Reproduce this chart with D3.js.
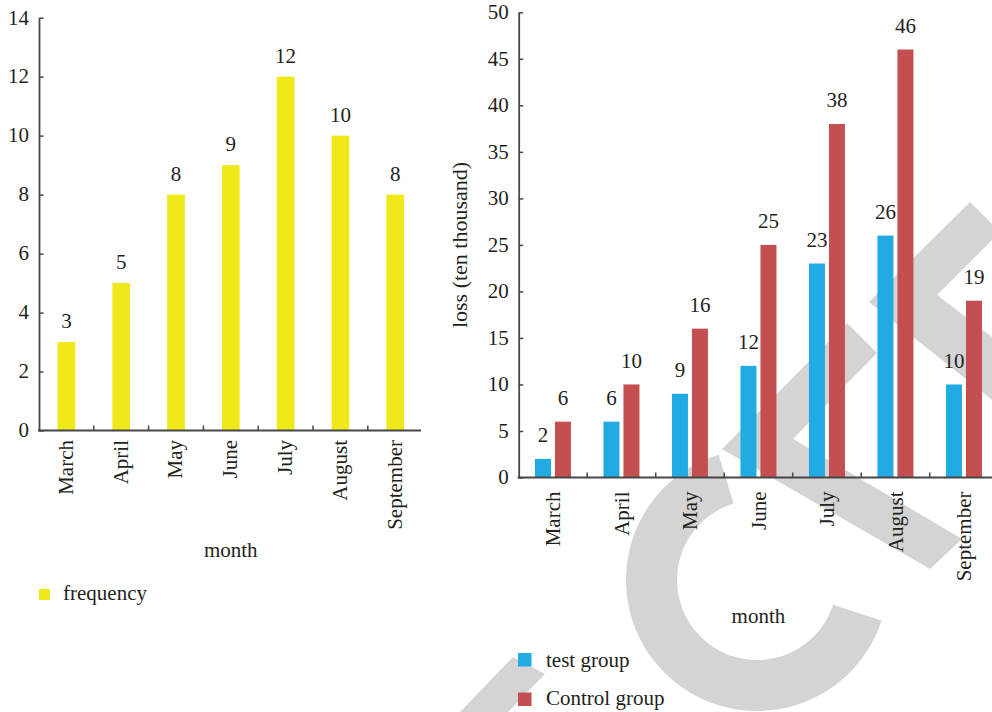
<!DOCTYPE html>
<html>
<head>
<meta charset="utf-8">
<script src="https://cdn.jsdelivr.net/npm/d3@7"></script>
<style>
  html, body { margin: 0; padding: 0; background: #ffffff; }
  svg { display: block; }
</style>
</head>
<body>
<svg id="chart" width="992" height="712" font-family="Liberation Serif"></svg>
<script>
// ---- data ----
const months = ["March", "April", "May", "June", "July", "August", "September"];
const frequency = [3, 5, 8, 9, 12, 10, 8];
const testGroup = [2, 6, 9, 12, 23, 26, 10];
const controlGroup = [6, 10, 16, 25, 38, 46, 19];
const freqTicks = [0, 2, 4, 6, 8, 10, 12, 14];
const lossTicks = [0, 5, 10, 15, 20, 25, 30, 35, 40, 45, 50];
const seriesNames = ["test group", "Control group"];
const leftLegend = ["frequency"];

// ---- styles ----
const C_YELLOW = "#f1e81a";
const C_BLUE = "#22abe2";
const C_RED = "#c44f50";
const C_AXIS = "#464646";
const C_WM = "#d4d4d4";
const C_TEXT = "#231f20";
const FONT = "Liberation Serif";
const FS = 21;

const svg = d3.select("#chart");

// ---- watermark (decorative background) ----
const wm = svg.append("g").attr("fill", C_WM);
wm.append("path")
  .attr("transform", "translate(757,580)")
  .attr("d", d3.arc()({innerRadius: 80, outerRadius: 131,
        startAngle: 108 * Math.PI / 180, endAngle: 343 * Math.PI / 180}));
const wmPolys = [
  [[722,449],[847,323],[877,353],[793,439],[962,539],[930,569]],
  [[869,302],[970,202],[1000,232],[937,295],[1000,343],[1000,406]],
  [[513,657],[460,712],[508,712],[545,674]]
];
wm.selectAll("path.poly").data(wmPolys).join("path")
  .attr("class", "poly")
  .attr("d", d => d3.line()(d) + "Z");

function styleAxis(g) {
  g.attr("font-family", FONT).attr("font-size", FS);
  g.selectAll(".domain").attr("stroke", C_AXIS).attr("stroke-width", 1.8);
  g.selectAll(".tick line").attr("stroke", C_AXIS).attr("stroke-width", 1.5);
}

// =============== LEFT CHART ===============
{
  const x = d3.scaleBand().domain(months).range([39, 422.6]).padding(0);
  const y = d3.scaleLinear().domain([0, 14]).range([430.5, 17.7]);
  const barW = x.bandwidth() * 0.323;

  svg.append("g").selectAll("rect").data(months).join("rect")
    .attr("x", (m) => x(m) + (x.bandwidth() - barW) / 2)
    .attr("width", barW)
    .attr("y", (m, i) => y(frequency[i]))
    .attr("height", (m, i) => y(0) - y(frequency[i]))
    .attr("fill", C_YELLOW);

  svg.append("g").selectAll("text").data(months).join("text")
    .attr("x", (m) => x(m) + x.bandwidth() / 2)
    .attr("y", (m, i) => y(frequency[i]) - 14)
    .attr("text-anchor", "middle")
    .text((m, i) => frequency[i]);

  const ya = svg.append("g").attr("transform", `translate(${x.range()[0]},0)`)
    .call(d3.axisLeft(y).tickValues(freqTicks).tickSize(-4.5).tickSizeOuter(0).tickPadding(10));
  ya.selectAll("text").attr("dy", "0.3em");
  styleAxis(ya);

  const xa = svg.append("g").attr("transform", `translate(0,${y(0)})`)
    .call(d3.axisBottom(x).tickSize(0).tickSizeOuter(0));
  xa.select(".domain").remove();
  xa.selectAll("text")
    .attr("transform", "rotate(-90)")
    .attr("x", -9.5).attr("y", 0).attr("dy", "0.3em")
    .attr("text-anchor", "end");
  styleAxis(xa);
  svg.append("line")
    .attr("x1", x.range()[0] - 1).attr("x2", 421)
    .attr("y1", y(0)).attr("y2", y(0))
    .attr("stroke", C_AXIS).attr("stroke-width", 1.8);
  svg.append("g").selectAll("line").data(months.slice(1)).join("line")
    .attr("x1", m => x(m)).attr("x2", m => x(m))
    .attr("y1", y(0)).attr("y2", y(0) - 5)
    .attr("stroke", C_AXIS).attr("stroke-width", 1.5);

  svg.append("text").attr("x", (x.range()[0] + x.range()[1]) / 2).attr("y", 557)
    .attr("text-anchor", "middle").text("month");

  const lg = svg.append("g");
  lg.selectAll("rect").data(leftLegend).join("rect")
    .attr("x", 39).attr("y", 589).attr("width", 11).attr("height", 11).attr("fill", C_YELLOW);
  lg.selectAll("text").data(leftLegend).join("text")
    .attr("x", 63).attr("y", 600).text(d => d);
}

// =============== RIGHT CHART ===============
{
  const x = d3.scaleBand().domain(months).range([518.7, 998.2]).padding(0);
  const y = d3.scaleLinear().domain([0, 50]).range([477.5, 12.3]);
  const xs = d3.scaleBand().domain(seriesNames).range([0, x.bandwidth()])
    .paddingInner(0.2).paddingOuter(0.8125);
  const colors = [C_BLUE, C_RED];
  const series = [testGroup, controlGroup];

  const rows = [];
  months.forEach((m, i) => seriesNames.forEach((s, j) => rows.push({m, s, v: series[j][i], c: colors[j]})));

  svg.append("g").selectAll("rect").data(rows).join("rect")
    .attr("x", d => x(d.m) + xs(d.s))
    .attr("width", xs.bandwidth())
    .attr("y", d => y(d.v))
    .attr("height", d => y(0) - y(d.v))
    .attr("fill", d => d.c);

  svg.append("g").selectAll("text").data(rows).join("text")
    .attr("x", d => x(d.m) + xs(d.s) + xs.bandwidth() / 2)
    .attr("y", d => y(d.v) - 16.5)
    .attr("text-anchor", "middle")
    .text(d => d.v);

  const ya = svg.append("g").attr("transform", `translate(${x.range()[0]},0)`)
    .call(d3.axisLeft(y).tickValues(lossTicks).tickSize(-4.5).tickSizeOuter(0).tickPadding(10));
  ya.selectAll("text").attr("dy", "0.3em");
  styleAxis(ya);

  const xa = svg.append("g").attr("transform", `translate(0,${y(0)})`)
    .call(d3.axisBottom(x).tickSize(0).tickSizeOuter(0));
  xa.select(".domain").remove();
  xa.selectAll("text")
    .attr("transform", "rotate(-90)")
    .attr("x", -14).attr("y", 0).attr("dy", "0.35em")
    .attr("text-anchor", "end");
  styleAxis(xa);
  svg.append("line")
    .attr("x1", x.range()[0] - 1).attr("x2", x.range()[1])
    .attr("y1", y(0)).attr("y2", y(0))
    .attr("stroke", C_AXIS).attr("stroke-width", 1.8);
  svg.append("g").selectAll("line").data(months.slice(1)).join("line")
    .attr("x1", m => x(m)).attr("x2", m => x(m))
    .attr("y1", y(0)).attr("y2", y(0) - 5)
    .attr("stroke", C_AXIS).attr("stroke-width", 1.5);

  svg.append("text").attr("x", (x.range()[0] + x.range()[1]) / 2).attr("y", 622.5)
    .attr("text-anchor", "middle").text("month");

  svg.append("text")
    .attr("transform", `translate(467,245) rotate(-90)`)
    .attr("text-anchor", "middle").attr("font-size", FS + 1)
    .text("loss (ten thousand)");

  const lg = svg.append("g");
  lg.selectAll("rect").data(seriesNames).join("rect")
    .attr("x", 518).attr("y", (d, i) => 653 + i * 39.5)
    .attr("width", 13.5).attr("height", 13.5).attr("fill", (d, i) => colors[i]);
  lg.selectAll("text").data(seriesNames).join("text")
    .attr("x", 546).attr("y", (d, i) => 666.5 + i * 38.5)
    .text(d => d);
}

// font for every text
svg.selectAll("text").each(function () {
  const t = d3.select(this);
  if (!t.attr("font-size")) t.attr("font-size", FS);
  t.attr("font-family", FONT).attr("fill", C_TEXT);
});
</script>
</body>
</html>
